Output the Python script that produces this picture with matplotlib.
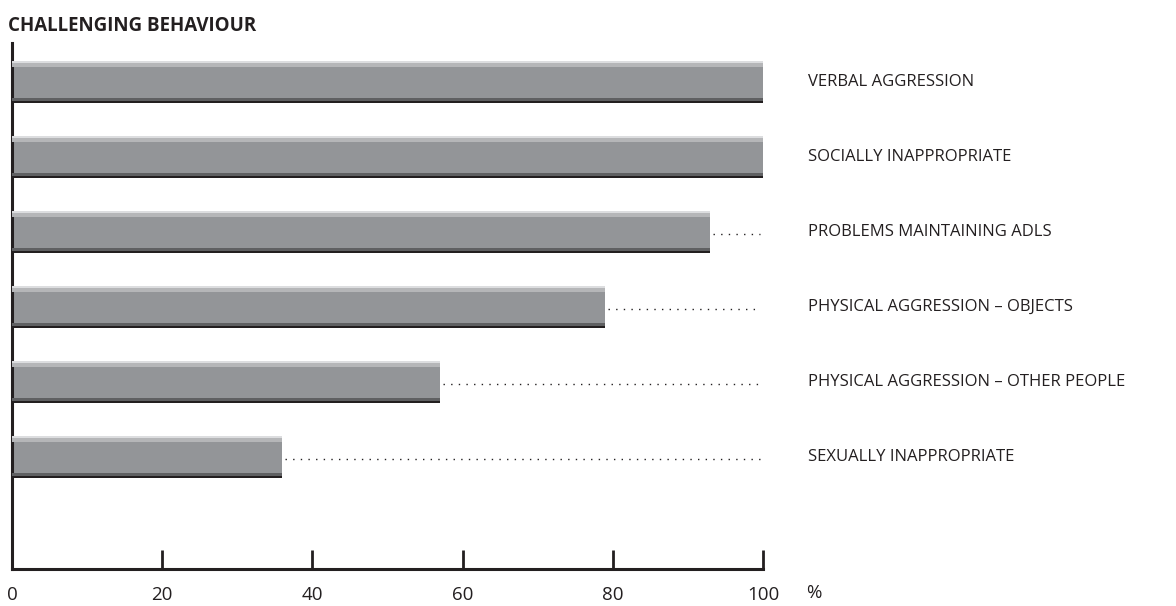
import matplotlib
matplotlib.use("Agg")
import matplotlib.pyplot as plt

categories = ["VERBAL AGGRESSION", "SOCIALLY INAPPROPRIATE", "PROBLEMS MAINTAINING ADLS",
              "PHYSICAL AGGRESSION – OBJECTS", "PHYSICAL AGGRESSION – OTHER PEOPLE",
              "SEXUALLY INAPPROPRIATE"]
values = [100, 100, 93, 79, 57, 36]
xticks = [0, 20, 40, 60, 80, 100]
title = "CHALLENGING BEHAVIOUR"
unit = "%"

plt.rcParams['font.family'] = ['Open Sans', 'DejaVu Sans']
W, H = 1176, 606
fig = plt.figure(figsize=(W/100, H/100), dpi=100)
ax = fig.add_axes([12/W, 37/H, (763-12)/W, (569-43)/H])

pos = list(range(len(categories)))
bh = 0.56
ax.barh(pos, values, height=bh, color="#939598", edgecolor="none", zorder=2)
# light top strip
ax.barh([p - bh/2 + 0.04 for p in pos], values, height=0.08, color="#b5b6b8", edgecolor="none", zorder=3)
ax.barh([p - bh/2 + 0.015 for p in pos], values, height=0.03, color="#dcdddf", edgecolor="none", zorder=3)
# dark bottom strip
ax.barh([p + bh/2 - 0.04 for p in pos], values, height=0.05, color="#5f6062", edgecolor="none", zorder=3)
ax.barh([p + bh/2 - 0.012 for p in pos], values, height=0.024, color="#231f20", edgecolor="none", zorder=3)

for p, v in zip(pos, values):
    if v < 99:
        ax.plot([v + 0.4, 99.6], [p + 0.02, p + 0.02], linestyle=(0, (1, 4.5)), color="#231f20",
                linewidth=1.0, zorder=2)
    ax.text(106, p, categories[p], ha="left", va="center", fontsize=12, color="#231f20")

ax.set_xlim(0, 100)
ax.set_ylim(-0.52 + 7.013, -0.52)
for s in ["top", "right"]:
    ax.spines[s].set_visible(False)
for s in ["left", "bottom"]:
    ax.spines[s].set_linewidth(2.2)
    ax.spines[s].set_color("#231f20")
ax.set_yticks([])
ax.set_xticks(xticks)
ax.set_xticklabels([str(t) for t in xticks])
ax.tick_params(axis="x", direction="in", length=14, width=2, color="#231f20",
               labelsize=13.5, labelcolor="#231f20", pad=12)
fig.text(806/W, 1 - 593/H, unit, ha="left", va="center", fontsize=13.5, color="#231f20")
fig.text(8/W, 1 - 26/H, title, ha="left", va="center", fontsize=13.5, fontweight="bold",
         color="#231f20")
fig.savefig("out.png", dpi=100)
